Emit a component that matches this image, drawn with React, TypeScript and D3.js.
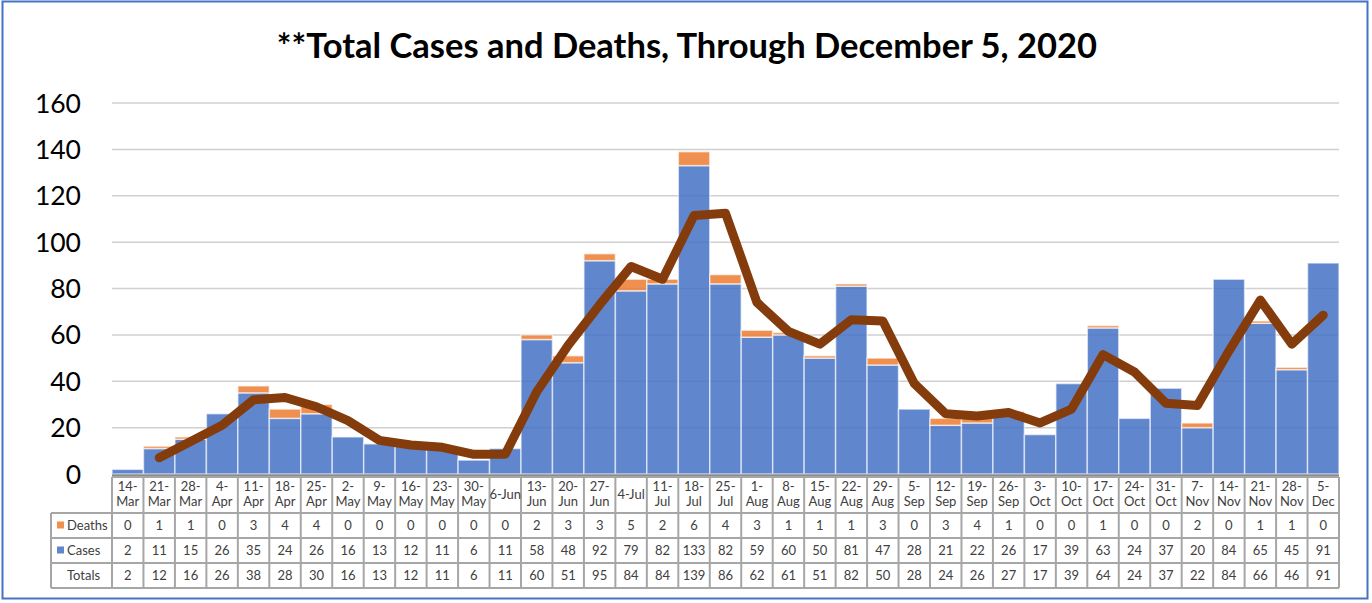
import { line, scaleBand, scaleLinear } from 'd3';

// Weekly cases/deaths, stacked bars + 2-week average line, Excel-style data table under the axis.

const weeks = [
  '14-Mar', '21-Mar', '28-Mar', '4-Apr', '11-Apr', '18-Apr', '25-Apr', '2-May', '9-May', '16-May',
  '23-May', '30-May', '6-Jun', '13-Jun', '20-Jun', '27-Jun', '4-Jul', '11-Jul', '18-Jul', '25-Jul',
  '1-Aug', '8-Aug', '15-Aug', '22-Aug', '29-Aug', '5-Sep', '12-Sep', '19-Sep', '26-Sep', '3-Oct',
  '10-Oct', '17-Oct', '24-Oct', '31-Oct', '7-Nov', '14-Nov', '21-Nov', '28-Nov', '5-Dec',
];
const deaths = [0, 1, 1, 0, 3, 4, 4, 0, 0, 0, 0, 0, 0, 2, 3, 3, 5, 2, 6, 4, 3, 1, 1, 1, 3, 0, 3, 4, 1, 0, 0, 1, 0, 0, 2, 0, 1, 1, 0];
const cases = [2, 11, 15, 26, 35, 24, 26, 16, 13, 12, 11, 6, 11, 58, 48, 92, 79, 82, 133, 82, 59, 60, 50, 81, 47, 28, 21, 22, 26, 17, 39, 63, 24, 37, 20, 84, 65, 45, 91];
const totals = [2, 12, 16, 26, 38, 28, 30, 16, 13, 12, 11, 6, 11, 60, 51, 95, 84, 84, 139, 86, 62, 61, 51, 82, 50, 28, 24, 26, 27, 17, 39, 64, 24, 37, 22, 84, 66, 46, 91];
// trend line (no point for the first week)
const trend = [null, 7, 14, 21, 32, 33, 29, 23, 14.5, 12.5, 11.5, 8.5, 8.5, 35.5, 55.5, 73, 89.5, 84, 111.5, 112.5, 74, 61.5, 56, 66.5, 66, 39, 26, 25, 26.5, 22, 28, 51.5, 44, 30.5, 29.5, 53, 75, 56, 68.5];
const yTicks = [0, 20, 40, 60, 80, 100, 120, 140, 160];
const oneLine = new Set(['6-Jun', '4-Jul']);

const BLUE = '#4472C4';
const ORANGE = '#ED7D31';
const BROWN = '#843C0C';
const FONT = 'Lato, "Open Sans", sans-serif';

export default function App() {
  const W = 1372;
  const H = 603;
  const left = 112;
  const right = 1339;
  const x = scaleBand<string>().domain(weeks).range([left, right]).padding(0);
  const y = scaleLinear().domain([0, 160]).range([474, 103]);
  const bw = x.bandwidth();

  const ln = line<number | null>()
    .defined((d) => d != null)
    .x((_d, i) => x(weeks[i])! + bw / 2)
    .y((d) => y(d as number));

  const rowsY = [477, 513, 538, 563, 588];
  const rows = [
    { name: 'Deaths', color: ORANGE, vals: deaths },
    { name: 'Cases', color: BLUE, vals: cases },
    { name: 'Totals', color: null, vals: totals },
  ];
  const grid = '#A6A6A6';
  const fs = 13;

  return (
    <div style={{ position: 'absolute', left: 0, top: 0 }}>
      <svg width={W} height={H} viewBox={`0 0 ${W} ${H}`} style={{ display: 'block', fontFamily: FONT }}>
        <rect x={0} y={0} width={W} height={H} fill="#fff" />
        <rect x={2.5} y={1.5} width={1365} height={597} fill="none" stroke={BLUE} strokeWidth={2} />

        <text x={687} y={58} textAnchor="middle" style={{ fontSize: 34.5, fontWeight: 700 }} fill="#000">
          **Total Cases and Deaths, Through December 5, 2020
        </text>

        {yTicks.map((t) => (
          <g key={t}>
            {t > 0 && <line x1={left} x2={right} y1={y(t)} y2={y(t)} stroke="#D0D0D0" strokeWidth={1.5} />}
            <text x={81} y={y(t)} dy="0.36em" textAnchor="end" style={{ fontSize: 26.5 }} fill="#000">
              {t}
            </text>
          </g>
        ))}

        {weeks.map((w, i) => (
          <g key={w}>
            <rect x={x(w)!} y={y(cases[i])} width={bw} height={y(0) - y(cases[i])} fill={BLUE} fillOpacity={0.85} stroke="#fff" strokeOpacity={0.6} strokeWidth={1.5} />
            {deaths[i] > 0 && (
              <rect x={x(w)!} y={y(totals[i])} width={bw} height={y(cases[i]) - y(totals[i])} fill={ORANGE} fillOpacity={0.85} stroke="#fff" strokeOpacity={0.6} strokeWidth={1.5} />
            )}
          </g>
        ))}

        <path d={ln(trend) ?? undefined} fill="none" stroke={BROWN} strokeWidth={9} strokeLinecap="round" strokeLinejoin="round" />

        {/* data table */}
        <line x1={left} x2={right} y1={475.5} y2={475.5} stroke="#8C8C8C" strokeWidth={2.5} />
        {rowsY.map((ry, k) => (
          <line key={ry} x1={k === 0 ? left : 51} x2={right} y1={ry} y2={ry} stroke={grid} strokeWidth={2} />
        ))}
        <line x1={51} x2={51} y1={rowsY[1]} y2={rowsY[4]} stroke={grid} strokeWidth={2} />
        {[...weeks, null].map((w, i) => (
          <line key={i} x1={left + i * bw} x2={left + i * bw} y1={rowsY[0]} y2={rowsY[4]} stroke={grid} strokeWidth={2} />
        ))}
        {weeks.map((w) => {
          const cx = x(w)! + bw / 2;
          const [d, m] = w.split('-');
          return oneLine.has(w) ? (
            <text key={w} x={cx} y={499} textAnchor="middle" style={{ fontSize: fs }} fill="#404040">
              {w}
            </text>
          ) : (
            <text key={w} textAnchor="middle" style={{ fontSize: fs }} fill="#404040">
              <tspan x={cx} y={491}>{d}-</tspan>
              <tspan x={cx} y={506}>{m}</tspan>
            </text>
          );
        })}
        {rows.map((r, k) => {
          const cy = (rowsY[k + 1] + rowsY[k + 2]) / 2;
          return (
            <g key={r.name}>
              {r.color && <rect x={57} y={cy - 4} width={7} height={7} fill={r.color} fillOpacity={0.85} />}
              <text x={67} y={cy} dy="0.35em" style={{ fontSize: fs }} fill="#404040">
                {r.name}
              </text>
              {r.vals.map((v, i) => (
                <text key={i} x={x(weeks[i])! + bw / 2} y={cy} dy="0.35em" textAnchor="middle" style={{ fontSize: fs }} fill="#404040">
                  {v}
                </text>
              ))}
            </g>
          );
        })}
      </svg>
    </div>
  );
}
